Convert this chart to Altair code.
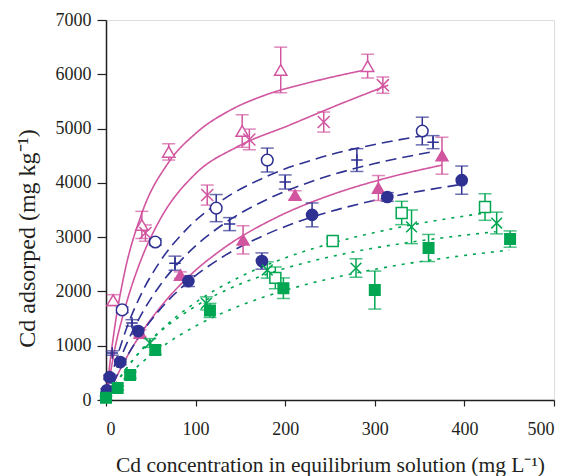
import altair as alt
import pandas as pd

# ---------------- data ----------------
series_names = ["m_tri_open", "m_x", "m_tri_fill",
                "b_circ_open", "b_plus", "b_circ_fill",
                "g_sq_open", "g_x", "g_sq_fill"]

m_tri_open_x = [8, 40, 70, 152, 195, 292]
m_tri_open_y = [1840, 3225, 4570, 4955, 6080, 6150]
m_tri_open_e = [100, 250, 150, 300, 420, 220]

m_x_x = [44, 113, 160, 243, 309]
m_x_y = [3075, 3775, 4800, 5120, 5800]
m_x_e = [150, 185, 190, 185, 150]

m_tri_fill_x = [38, 83, 153, 211, 304, 375]
m_tri_fill_y = [1230, 2300, 2950, 3775, 3905, 4500]
m_tri_fill_e = [60, 60, 260, 80, 230, 340]

b_circ_open_x = [18, 55, 123, 180, 353]
b_circ_open_y = [1660, 2910, 3535, 4420, 4955]
b_circ_open_e = [50, 60, 250, 220, 255]

b_plus_x = [7, 29, 77, 138, 200, 280, 365]
b_plus_y = [865, 1420, 2520, 3240, 4016, 4420, 4750]
b_plus_e = [40, 60, 130, 120, 130, 210, 120]

b_circ_fill_x = [1, 4, 16, 36, 92, 174, 230, 314, 397]
b_circ_fill_y = [180, 420, 700, 1270, 2190, 2560, 3410, 3740, 4050]
b_circ_fill_e = [30, 40, 50, 60, 100, 150, 220, 80, 260]

g_sq_open_x = [189, 253, 330, 423]
g_sq_open_y = [2250, 2930, 3445, 3555]
g_sq_open_e = [200, 60, 215, 245]

g_x_x = [49, 112, 180, 279, 341, 436]
g_x_y = [1050, 1780, 2395, 2430, 3190, 3260]
g_x_e = [80, 120, 150, 170, 310, 200]

g_sq_fill_x = [0, 13, 27, 55, 116, 198, 300, 360, 451]
g_sq_fill_y = [40, 220, 460, 920, 1650, 2060, 2025, 2800, 2965]
g_sq_fill_e = [30, 40, 60, 80, 130, 190, 350, 250, 150]

# fitted isotherm curves
curve_names = ["m1", "m2", "m3", "b1", "b2", "b3", "g1", "g2", "g3"]
m1_x = [0, 2, 5, 10, 20, 40, 70, 100, 140, 180, 230, 295]
m1_y = [0, 330, 760, 1370, 2290, 3440, 4380, 4910, 5350, 5630, 5860, 6100]
m2_x = [0, 2, 5, 10, 20, 40, 60, 100, 146, 205, 261, 315]
m2_y = [0, 200, 500, 950, 1620, 2620, 3315, 4170, 4660, 5065, 5450, 5800]
m3_x = [0, 5, 10, 20, 40, 60, 94, 130, 194, 250, 310, 375]
m3_y = [0, 190, 368, 694, 1247, 1697, 2300, 2781, 3393, 3771, 4075, 4327]
b1_x = [0, 5, 10, 20, 40, 60, 90, 130, 180, 240, 300, 355]
b1_y = [0, 347, 657, 1184, 1976, 2544, 3147, 3684, 4124, 4470, 4708, 4870]
b2_x = [0, 5, 10, 20, 40, 60, 90, 130, 180, 240, 300, 365]
b2_y = [0, 260, 498, 919, 1592, 2106, 2683, 3228, 3698, 4083, 4356, 4574]
b3_x = [0, 5, 10, 20, 40, 60, 90, 130, 180, 240, 300, 395]
b3_y = [0, 195, 376, 701, 1238, 1663, 2155, 2634, 3060, 3420, 3679, 3968]
g1_x = [0, 5, 10, 20, 40, 60, 100, 150, 200, 260, 320, 380, 425]
g1_y = [0, 139, 271, 513, 927, 1268, 1797, 2271, 2617, 2924, 3156, 3337, 3449]
g2_x = [0, 5, 10, 20, 40, 60, 100, 150, 200, 260, 320, 380, 435]
g2_y = [0, 145, 280, 524, 928, 1249, 1728, 2137, 2425, 2673, 2857, 2997, 3100]
g3_x = [0, 5, 10, 20, 40, 60, 100, 150, 200, 260, 320, 380, 450]
g3_y = [0, 102, 198, 378, 689, 949, 1362, 1740, 2020, 2273, 2467, 2619, 2761]

x_ticks = [0, 100, 200, 300, 400, 500]
y_ticks = [0, 1000, 2000, 3000, 4000, 5000, 6000, 7000]

# ---------------- styles ----------------
PINK = "#D1559F"
BLUE = "#2E3192"
GREEN = "#00A651"
INK = "#231F20"
XPATH = "M-1,-1L1,1M-1,1L1,-1"
PPATH = "M-1,0L1,0M0,-1L0,1"

s_colors = [PINK, PINK, PINK, BLUE, BLUE, BLUE, GREEN, GREEN, GREEN]
s_shapes = ["triangle-up", XPATH, "triangle-up", "circle", PPATH, "circle",
            "square", XPATH, "square"]
s_fills = ["white", "transparent", PINK, "white", "transparent", BLUE,
           "white", "transparent", GREEN]
s_sizes = [150, 110, 150, 150, 150, 150, 130, 110, 130]

c_colors = [PINK] * 3 + [BLUE] * 3 + [GREEN] * 3
c_dash = [[1, 0]] * 3 + [[11, 6]] * 3 + [[3, 6]] * 3
c_width = [1.6] * 3 + [2.2] * 3 + [2.6] * 3

# ---------------- tables ----------------
pts_src = {
    "m_tri_open": (m_tri_open_x, m_tri_open_y, m_tri_open_e),
    "m_x": (m_x_x, m_x_y, m_x_e),
    "m_tri_fill": (m_tri_fill_x, m_tri_fill_y, m_tri_fill_e),
    "b_circ_open": (b_circ_open_x, b_circ_open_y, b_circ_open_e),
    "b_plus": (b_plus_x, b_plus_y, b_plus_e),
    "b_circ_fill": (b_circ_fill_x, b_circ_fill_y, b_circ_fill_e),
    "g_sq_open": (g_sq_open_x, g_sq_open_y, g_sq_open_e),
    "g_x": (g_x_x, g_x_y, g_x_e),
    "g_sq_fill": (g_sq_fill_x, g_sq_fill_y, g_sq_fill_e),
}
rows = []
for name in series_names:
    xs, ys, es = pts_src[name]
    for xv, yv, ev in zip(xs, ys, es):
        rows.append({"series": name, "x": xv, "y": yv,
                     "lo": yv - ev, "hi": yv + ev})
pts = pd.DataFrame(rows)

cur_src = {"m1": (m1_x, m1_y), "m2": (m2_x, m2_y), "m3": (m3_x, m3_y),
           "b1": (b1_x, b1_y), "b2": (b2_x, b2_y), "b3": (b3_x, b3_y),
           "g1": (g1_x, g1_y), "g2": (g2_x, g2_y), "g3": (g3_x, g3_y)}
crow = []
for name in curve_names:
    xs, ys = cur_src[name]
    for i, (xv, yv) in enumerate(zip(xs, ys)):
        crow.append({"curve": name, "x": xv, "y": yv, "order": i})
curves = pd.DataFrame(crow)

# ---------------- encodings ----------------
FONT = "Liberation Serif"
xenc = alt.X("x:Q", scale=alt.Scale(domain=[0, 500], nice=False, zero=False),
             axis=alt.Axis(values=x_ticks, format="d",
                           title="Cd  concentration in equilibrium solution (mg L⁻¹)",
                           grid=False, tickSize=6, labelPadding=14, titlePadding=16,
                           labelFont=FONT, labelFontSize=18, titleFont=FONT,
                           labelFontWeight="normal",
                           titleFontSize=21.5, titleFontWeight="normal",
                           labelColor=INK, titleColor=INK, domainColor=INK,
                           tickColor=INK, domainWidth=1.5, tickWidth=1.2))
yenc = alt.Y("y:Q", scale=alt.Scale(domain=[0, 7000], nice=False, zero=False),
             axis=alt.Axis(values=y_ticks, format="d", title="Cd adsorped (mg kg⁻¹)",
                           grid=False, tickSize=9, labelPadding=6,
                           labelFont=FONT, labelFontSize=18, titleFont=FONT,
                           labelFontWeight="normal",
                           titleFontSize=24, titleFontWeight="normal",
                           titleX=-67, titleY=218,
                           labelColor=INK, titleColor=INK, domainColor=INK,
                           tickColor=INK, domainWidth=1.5, tickWidth=1.2))

scol = alt.Color("series:N", scale=alt.Scale(domain=series_names, range=s_colors), legend=None)

lines = alt.Chart(curves).mark_line(interpolate="monotone", clip=False).encode(
    x=xenc, y=yenc,
    color=alt.Color("curve:N", scale=alt.Scale(domain=curve_names, range=c_colors), legend=None),
    strokeDash=alt.StrokeDash("curve:N", scale=alt.Scale(domain=curve_names, range=c_dash), legend=None),
    strokeWidth=alt.StrokeWidth("curve:N", scale=alt.Scale(domain=curve_names, range=c_width), legend=None),
    order="order:Q",
)

rules = alt.Chart(pts).mark_rule(strokeWidth=1.5).encode(
    x=xenc, y=alt.Y("lo:Q"), y2="hi:Q", color=scol)

caps = alt.Chart(pts).transform_fold(["lo", "hi"], as_=["k", "v"]).mark_tick(
    orient="horizontal", size=13, thickness=1.5).encode(
    x=xenc, y=alt.Y("v:Q"), color=scol)

points = alt.Chart(pts).mark_point(opacity=1, strokeWidth=1.5, clip=False).encode(
    x=xenc, y=yenc, color=scol,
    shape=alt.Shape("series:N", scale=alt.Scale(domain=series_names, range=s_shapes), legend=None),
    fill=alt.Fill("series:N", scale=alt.Scale(domain=series_names, range=s_fills), legend=None),
    size=alt.Size("series:N", scale=alt.Scale(domain=series_names, range=s_sizes), legend=None),
)

chart = alt.layer(lines, rules, caps, points).properties(
    width=448, height=380,
    padding={"left": 98, "top": 12, "right": 9, "bottom": 76},
    autosize=alt.AutoSizeParams(type="none"),
).configure_view(stroke="#6E6E6E", strokeWidth=1.5).configure_axis(
    labelFont=FONT, titleFont=FONT, labelFontSize=18, labelColor=INK
).configure(background="white", font=FONT)

chart.save("out.html", embed_options={"renderer": "svg", "actions": False})
